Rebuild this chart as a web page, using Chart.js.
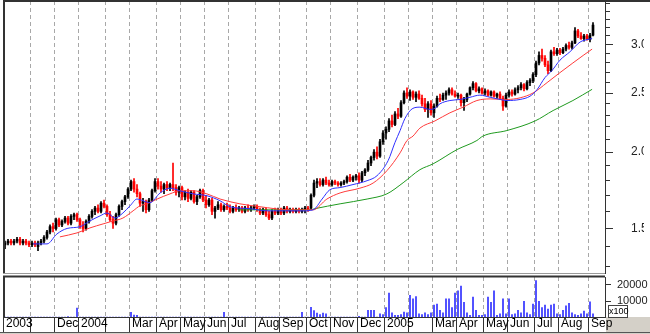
<!DOCTYPE html>
<html><head><meta charset="utf-8">
<script src="https://cdn.jsdelivr.net/npm/chart.js@4.4.0/dist/chart.umd.min.js"></script>
<style>
html,body{margin:0;padding:0;background:#fff;width:650px;height:334px;overflow:hidden;position:relative;font-family:"Liberation Sans Narrow","Liberation Sans",Arial,sans-serif}
#main{position:absolute;left:0;top:0}
#vol{position:absolute;left:0;top:274px}
#grayR{position:absolute;left:606px;top:317px;width:44px;height:17px;background:#d4d0c8}
#grayB{position:absolute;left:0;top:332px;width:650px;height:2px;background:#d4d0c8;border-top:1px solid #555}
#unit{position:absolute;left:608px;top:305px;width:18px;height:11px;border:1px solid #444;background:#fff;font-size:9px;line-height:11px;text-align:center;color:#000}
</style></head>
<body>
<div id="grayR"></div>
<div id="grayB"></div>
<canvas id="main" width="650" height="274"></canvas>
<canvas id="vol" width="650" height="58"></canvas>
<div id="unit">x100</div>
<script>
// ---- data ----
const opens = [
1.41,1.42,1.43,1.42,1.43,1.44,1.42,1.43,1.42,1.41,
1.42,1.40,1.42,1.43,1.45,1.48,1.51,1.50,1.55,1.52,
1.54,1.56,1.53,1.57,1.58,1.55,1.52,1.50,1.54,1.57,
1.60,1.62,1.60,1.65,1.63,1.58,1.55,1.53,1.58,1.63,
1.66,1.69,1.74,1.79,1.74,1.71,1.65,1.66,1.61,1.67,
1.73,1.79,1.76,1.74,1.77,1.75,1.77,1.75,1.72,1.75,
1.69,1.72,1.68,1.72,1.66,1.69,1.73,1.67,1.64,1.67,
1.60,1.62,1.64,1.61,1.63,1.62,1.60,1.62,1.61,1.62,
1.60,1.62,1.61,1.62,1.63,1.61,1.59,1.61,1.58,1.56,
1.60,1.59,1.61,1.59,1.62,1.60,1.61,1.60,1.61,1.60,
1.61,1.62,1.62,1.70,1.78,1.79,1.77,1.80,1.78,1.77,
1.79,1.78,1.77,1.78,1.79,1.82,1.80,1.82,1.83,1.80,
1.85,1.87,1.92,1.96,2.00,1.97,2.08,2.15,2.18,2.25,
2.22,2.31,2.29,2.41,2.50,2.47,2.51,2.46,2.49,2.45,
2.40,2.35,2.40,2.32,2.38,2.45,2.44,2.48,2.50,2.53,
2.49,2.47,2.48,2.41,2.44,2.49,2.55,2.59,2.52,2.54,
2.50,2.52,2.48,2.51,2.47,2.49,2.45,2.38,2.48,2.51,
2.49,2.53,2.55,2.58,2.54,2.60,2.62,2.68,2.80,2.88,
2.85,2.78,2.72,2.92,2.90,2.94,2.91,2.95,2.99,2.97,
3.02,3.16,3.10,3.07,3.10,3.06,3.11];
const highs = [
1.43,1.44,1.44,1.44,1.45,1.45,1.44,1.44,1.43,1.43,
1.43,1.43,1.44,1.46,1.49,1.52,1.53,1.56,1.56,1.55,
1.57,1.57,1.58,1.59,1.59,1.56,1.54,1.55,1.58,1.61,
1.63,1.64,1.66,1.67,1.64,1.60,1.57,1.59,1.64,1.67,
1.70,1.75,1.80,1.81,1.77,1.72,1.68,1.67,1.68,1.74,
1.81,1.81,1.79,1.78,1.79,1.78,1.92,1.77,1.76,1.76,
1.73,1.74,1.73,1.73,1.70,1.74,1.74,1.70,1.68,1.68,
1.63,1.66,1.65,1.64,1.65,1.64,1.63,1.64,1.63,1.63,
1.63,1.64,1.63,1.64,1.64,1.62,1.62,1.62,1.60,1.61,
1.62,1.62,1.62,1.63,1.63,1.62,1.62,1.62,1.62,1.62,
1.63,1.63,1.71,1.80,1.81,1.81,1.81,1.82,1.80,1.80,
1.80,1.79,1.79,1.80,1.83,1.84,1.83,1.84,1.85,1.86,
1.88,1.94,1.97,2.02,2.04,2.10,2.17,2.20,2.27,2.30,
2.33,2.36,2.43,2.52,2.55,2.53,2.52,2.51,2.52,2.48,
2.45,2.42,2.43,2.40,2.47,2.49,2.50,2.52,2.55,2.55,
2.52,2.50,2.49,2.46,2.50,2.56,2.61,2.60,2.56,2.55,
2.54,2.53,2.52,2.52,2.50,2.51,2.47,2.50,2.53,2.53,
2.55,2.57,2.60,2.59,2.62,2.64,2.70,2.82,2.92,2.95,
2.88,2.82,2.94,2.97,2.96,2.96,2.97,3.01,3.03,3.04,
3.20,3.18,3.14,3.12,3.12,3.13,3.26];
const lows = [
1.39,1.41,1.41,1.41,1.42,1.41,1.41,1.41,1.40,1.40,
1.40,1.38,1.41,1.42,1.44,1.47,1.48,1.49,1.51,1.51,
1.53,1.52,1.52,1.55,1.54,1.50,1.48,1.49,1.53,1.56,
1.58,1.59,1.59,1.62,1.57,1.54,1.50,1.52,1.57,1.61,
1.64,1.68,1.73,1.72,1.69,1.63,1.60,1.59,1.60,1.66,
1.72,1.74,1.72,1.71,1.73,1.73,1.73,1.70,1.69,1.67,
1.67,1.66,1.67,1.65,1.64,1.68,1.66,1.62,1.63,1.58,
1.56,1.61,1.60,1.60,1.61,1.59,1.59,1.60,1.60,1.59,
1.59,1.60,1.60,1.61,1.60,1.58,1.58,1.57,1.55,1.55,
1.58,1.58,1.58,1.58,1.59,1.59,1.59,1.59,1.59,1.59,
1.59,1.60,1.61,1.69,1.75,1.76,1.76,1.77,1.76,1.76,
1.77,1.76,1.76,1.77,1.78,1.79,1.79,1.80,1.78,1.79,
1.83,1.86,1.90,1.94,1.95,1.96,2.06,2.10,2.16,2.20,
2.21,2.27,2.28,2.40,2.45,2.43,2.44,2.42,2.44,2.38,
2.33,2.28,2.30,2.28,2.37,2.42,2.43,2.44,2.48,2.48,
2.46,2.45,2.38,2.34,2.42,2.48,2.53,2.51,2.50,2.49,
2.48,2.47,2.47,2.46,2.45,2.44,2.34,2.37,2.46,2.47,
2.48,2.50,2.53,2.52,2.53,2.57,2.60,2.66,2.78,2.82,
2.76,2.69,2.71,2.88,2.88,2.89,2.90,2.93,2.95,2.95,
3.01,3.08,3.06,3.04,3.05,3.03,3.10];
const closes = [
1.42,1.43,1.42,1.43,1.44,1.42,1.43,1.42,1.41,1.42,
1.41,1.42,1.43,1.45,1.48,1.51,1.50,1.55,1.52,1.54,
1.56,1.53,1.57,1.58,1.55,1.52,1.50,1.54,1.57,1.60,
1.62,1.60,1.65,1.63,1.58,1.55,1.53,1.58,1.63,1.66,
1.69,1.74,1.79,1.74,1.71,1.65,1.66,1.61,1.67,1.73,
1.79,1.76,1.74,1.77,1.75,1.77,1.75,1.72,1.75,1.69,
1.72,1.68,1.72,1.66,1.69,1.73,1.67,1.64,1.67,1.60,
1.62,1.64,1.61,1.63,1.62,1.60,1.62,1.61,1.62,1.60,
1.62,1.61,1.62,1.63,1.61,1.59,1.61,1.58,1.56,1.60,
1.59,1.61,1.59,1.62,1.60,1.61,1.60,1.61,1.60,1.61,
1.62,1.61,1.70,1.78,1.79,1.77,1.80,1.78,1.77,1.79,
1.78,1.77,1.78,1.79,1.82,1.80,1.82,1.83,1.80,1.85,
1.87,1.92,1.96,2.00,1.97,2.08,2.15,2.18,2.25,2.22,
2.31,2.29,2.41,2.50,2.47,2.51,2.46,2.49,2.45,2.40,
2.35,2.40,2.32,2.38,2.45,2.44,2.48,2.50,2.53,2.49,
2.47,2.48,2.41,2.44,2.49,2.55,2.59,2.52,2.54,2.50,
2.52,2.48,2.51,2.47,2.49,2.45,2.38,2.48,2.51,2.49,
2.53,2.55,2.58,2.54,2.60,2.62,2.68,2.80,2.88,2.85,
2.78,2.72,2.92,2.90,2.94,2.91,2.95,2.99,2.97,3.02,
3.16,3.10,3.07,3.10,3.06,3.11,3.23];
const volumes = [
0,0,0,0,0,0,0,0,0,0,
0,0,0,0,0,0,0,0,0,0,
0,300,0,0,5600,0,0,0,0,0,
0,0,0,0,0,0,0,0,0,0,
0,0,2900,1200,1000,0,0,0,0,0,
0,0,0,0,0,0,0,0,0,0,
0,0,0,0,0,0,0,0,0,0,
0,0,0,2900,0,0,0,0,0,0,
0,0,0,0,0,0,0,0,0,0,
0,0,0,0,0,0,0,0,0,2900,
0,0,6000,4000,2500,1500,2500,2000,0,0,
0,0,0,0,0,0,0,0,400,0,
0,4100,4100,4100,0,2000,1500,5900,15000,2600,
1000,1000,1500,3000,2600,13500,11300,12800,2000,1500,
2600,1500,2600,7400,8000,4100,2600,11300,11300,5900,
15000,16300,19300,9100,2600,1000,12400,4100,1000,1000,
1500,12400,9100,16300,1000,2000,11300,2000,11300,1500,
2000,4100,2600,9800,2600,1500,8000,22800,9800,5900,
7400,5000,7400,8000,2000,1500,4100,7000,8500,2600,
1500,1000,2000,3700,2000,9500,2000];

// moving averages as drawn (bar position, value)
const maShortPos = [9.3,14,17.3,20.7,25,28.3,31.7,34,36.7,39.3,41.7,44,46,48.3,51.7,55,58.3,62.7,67.3,71.7,75,81.7,87.3,94,99.3,102.7,105.7,108.3,111.7,116,120.7,124,127.7,130,131.7,133.3,135.7,138.3,141.7,143.3,145,148.3,151.7,155,158.3,161.7,165,167.3,171.7,175,177.3,180,182.3,185,188.3,191.7,194.3,195.7];
const maShort = [1.415,1.415,1.469,1.50,1.51,1.543,1.573,1.59,1.56,1.59,1.634,1.676,1.665,1.653,1.715,1.746,1.729,1.709,1.697,1.665,1.628,1.616,1.603,1.603,1.603,1.609,1.676,1.736,1.75,1.77,1.796,1.83,1.937,2.075,2.17,2.27,2.355,2.37,2.35,2.36,2.40,2.43,2.44,2.46,2.48,2.46,2.44,2.43,2.44,2.47,2.53,2.65,2.72,2.83,2.92,3.03,3.06,3.07];
const maMidPos = [18.3,24,28.3,32.7,36,39.3,42.7,45,47.3,50.7,55,58.3,62.7,67.3,71.7,78.3,85,95,102.7,107.3,111.7,118.3,122.7,127.3,131.7,134,136,138.3,143.3,148.3,152.7,157.3,161.7,167.3,171.7,176,180.7,185,189.3,192.7,195.7];
const maMid = [1.453,1.475,1.503,1.526,1.543,1.56,1.603,1.634,1.646,1.676,1.709,1.729,1.729,1.709,1.676,1.646,1.628,1.609,1.609,1.676,1.715,1.746,1.78,1.865,1.995,2.09,2.125,2.19,2.25,2.32,2.37,2.43,2.445,2.44,2.455,2.50,2.60,2.70,2.80,2.88,2.95];
const maLongPos = [77.7,87.3,101.7,103.3,111.7,120.7,127.3,132.7,138.3,142.7,150.7,157.3,159.3,167.3,176.7,182.7,189.3,195.7];
const maLong = [1.609,1.609,1.609,1.616,1.646,1.676,1.709,1.782,1.872,1.914,2.02,2.09,2.125,2.17,2.25,2.34,2.43,2.535];

// month starts (bar index of first bar in month) and their labels
const monthStart = [0,9,17,25,34,42,51,59,67,75,84,92,101,109,118,127,135,143,151,160,168,177,185,195];
const monthLabels = ['2003','','Dec','2004','','Mar','Apr','May','Jun','Jul','Aug','Sep','Oct','Nov','Dec','2005','','Mar','Apr','May','Jun','Jul','Aug','Sep'];
const priceMajorTicks = [1.5, 2.0, 2.5, 3.0];
const priceMinorTicks = [1.3,1.4,1.5,1.6,1.7,1.8,1.9,2.0,2.1,2.2,2.3,2.4,2.5,2.6,2.7,2.8,2.9,3.0,3.1,3.2,3.3,3.4,3.5];
const volumeTicks = [10000, 20000];

// ---- chart setup ----
Chart.defaults.font.family = '"Liberation Sans Narrow", "Liberation Sans", Arial, sans-serif';
Chart.defaults.font.size = 11;
Chart.defaults.color = '#000';
Chart.defaults.animation = false;

const X_MIN = -0.67, X_MAX = 200;
const PRICE_MIN = 1.268, PRICE_MAX = 3.537;
const GRID = '#a8a8a8', DARK = '#333';

const idx = closes.map((_, i) => i);
const barColors = closes.map((c, i) => c < opens[i] ? '#ff0000' : '#000000');
const pts = (xs, ys) => xs.map((x, i) => ({x, y: ys[i]}));

const frame = {
  id: 'frame',
  afterDraw(chart, args, o) {
    const {ctx, chartArea: a} = chart;
    ctx.save();
    if (o.bottom) {
      ctx.strokeStyle = o.bottom; ctx.lineWidth = 1;
      ctx.beginPath(); ctx.moveTo(a.left, a.bottom + 0.5); ctx.lineTo(a.right, a.bottom + 0.5); ctx.stroke();
    }
    ctx.strokeStyle = DARK; ctx.lineWidth = 2;
    ctx.beginPath();
    ctx.moveTo(a.left + 1, a.bottom); ctx.lineTo(a.left + 1, a.top - o.topOff);
    ctx.lineTo(o.fullTop ? chart.width : a.right, a.top - o.topOff);
    ctx.stroke();
    ctx.restore();
  }
};

const noPad = s => { s.paddingTop = 0; s.paddingBottom = 0; s.paddingLeft = 0; s.paddingRight = 0; };

const xGridScale = (withLabels) => ({
  type: 'linear', min: X_MIN, max: X_MAX, offset: false,
  afterBuildTicks: s => { s.ticks = monthStart.map(i => ({value: i - 0.5})); },
  afterFit: s => { s.height = withLabels ? 15 : 0; noPad(s); },
  grid: {display: true, drawOnChartArea: true, offset: false, color: GRID, lineWidth: 1,
         drawTicks: withLabels, tickLength: 15, tickColor: DARK, tickWidth: 1, tickBorderDash: []},
  border: {display: withLabels, color: DARK, width: 1, dash: [4, 3]},
  ticks: {display: withLabels, autoSkip: false, maxRotation: 0, minRotation: 0,
          align: 'start', labelOffset: 2.5, padding: -16, font: {size: 12},
          callback: (v, i) => monthLabels[i]}
});

new Chart(document.getElementById('main'), {
  type: 'bar',
  data: {
    datasets: [
      {type: 'line', label: 'MA short', data: pts(maShortPos, maShort), borderColor: '#2f2fff', borderWidth: 1,
       pointRadius: 0, cubicInterpolationMode: 'monotone', order: 0},
      {type: 'line', label: 'MA mid', data: pts(maMidPos, maMid), borderColor: '#ff3b3b', borderWidth: 1,
       pointRadius: 0, cubicInterpolationMode: 'monotone', order: 0},
      {type: 'line', label: 'MA long', data: pts(maLongPos, maLong), borderColor: '#1f9a1f', borderWidth: 1,
       pointRadius: 0, cubicInterpolationMode: 'monotone', order: 0},
      {label: 'body', data: idx.map(i => ({x: i, y: [opens[i], closes[i]]})), backgroundColor: barColors,
       barThickness: 2, minBarLength: 1, grouped: false, order: 1},
      {label: 'range', data: idx.map(i => ({x: i, y: [lows[i], highs[i]]})), backgroundColor: barColors,
       barThickness: 1, grouped: false, order: 2}
    ]
  },
  options: {
    responsive: false, animation: false, events: [],
    layout: {padding: {left: 3, right: 6, top: 1, bottom: 1}},
    plugins: {legend: {display: false}, tooltip: {enabled: false}, frame: {topOff: 0, bottom: '#9a9a9a', fullTop: true}},
    scales: {
      x: xGridScale(false),
      yMinor: {
        type: 'logarithmic', position: 'right', weight: 0, min: PRICE_MIN, max: PRICE_MAX,
        afterBuildTicks: s => { s.ticks = priceMinorTicks.map(v => ({value: v})); },
        afterFit: s => { s.width = 0; noPad(s); },
        grid: {drawOnChartArea: false, drawTicks: true, tickLength: 5, tickColor: DARK},
        border: {display: false},
        ticks: {display: false, padding: 0}
      },
      y: {
        type: 'logarithmic', position: 'right', weight: 1, min: PRICE_MIN, max: PRICE_MAX,
        afterBuildTicks: s => { s.ticks = priceMajorTicks.map(v => ({value: v})); },
        afterFit: s => { s.width = 39; noPad(s); },
        grid: {drawOnChartArea: false, drawTicks: true, tickLength: 8, tickColor: DARK},
        border: {display: true, color: DARK, width: 1},
        ticks: {autoSkip: false, crossAlign: 'near', padding: 18, color: '#222', font: {size: 12},
                callback: v => Number(v).toFixed(1)}
      }
    }
  },
  plugins: [frame]
});

new Chart(document.getElementById('vol'), {
  type: 'bar',
  data: {
    datasets: [
      {label: 'volume', data: idx.map(i => ({x: i, y: volumes[i]})), backgroundColor: '#3030ff',
       barThickness: 1, grouped: false}
    ]
  },
  options: {
    responsive: false, animation: false, events: [],
    layout: {padding: {left: 3, right: 0, top: 3, bottom: 0}},
    plugins: {legend: {display: false}, tooltip: {enabled: false}, frame: {topOff: 0.5}},
    scales: {
      x: xGridScale(true),
      y: {
        type: 'linear', position: 'right', min: 0, max: 25000,
        afterBuildTicks: s => { s.ticks = volumeTicks.map(v => ({value: v})); },
        afterFit: s => { s.width = 45; noPad(s); },
        grid: {drawOnChartArea: false, drawTicks: true, tickLength: 6, tickColor: DARK},
        border: {display: true, color: DARK, width: 1},
        ticks: {autoSkip: false, crossAlign: 'near', padding: 6, color: '#222', font: {size: 11},
                callback: v => String(v)}
      }
    }
  },
  plugins: [frame]
});
</script>
</body></html>
